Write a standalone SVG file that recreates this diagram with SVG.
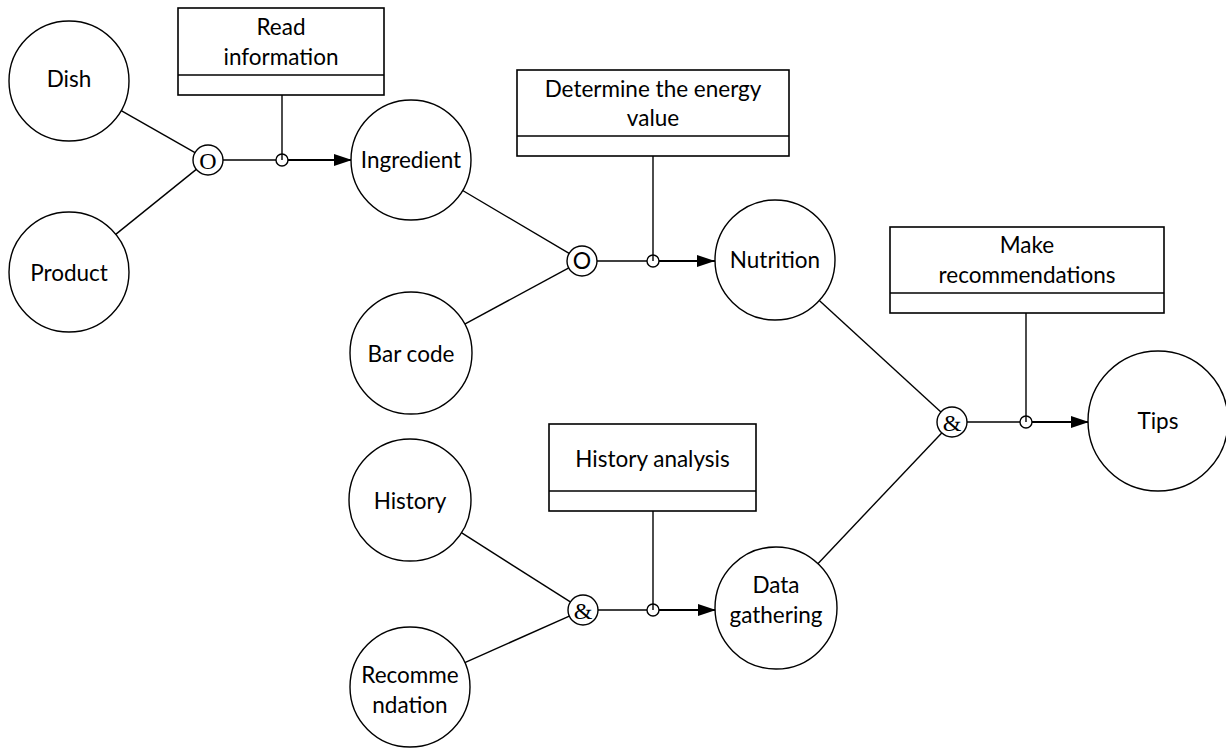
<svg xmlns="http://www.w3.org/2000/svg" width="1226" height="749" viewBox="0 0 1226 749">
  <style>
    .node { fill: #fff; stroke: #000; stroke-width: 1.4; }
    .box { fill: #fff; stroke: #000; stroke-width: 1.6; }
    .lbl { font-family: Lato, "Liberation Sans", sans-serif; font-size: 22.5px; fill: #000; text-anchor: middle; }
    .jn { fill: #fff; stroke: #000; stroke-width: 1.4; }
    .jt { font-family: "Liberation Serif", serif; font-size: 24px; fill: #000; text-anchor: middle; }
    .jts { font-family: Lato, "Liberation Sans", sans-serif; font-size: 23px; fill: #000; text-anchor: middle; }
    .thin { stroke: #000; stroke-width: 1.4; fill: none; }
    .bold { stroke: #000; stroke-width: 2.2; fill: none; }
    .tick { fill: none; stroke: #000; stroke-width: 1.4; }
  </style>
  <defs>
    <marker id="arrow" markerUnits="userSpaceOnUse" markerWidth="18" markerHeight="12" refX="18" refY="6" orient="auto">
      <path d="M0,0 L18,6 L0,12 z" fill="#000"/>
    </marker>
  </defs>

  <rect width="1226" height="749" fill="#fff"/>

  <!-- connectors -->
  <g id="connectors">
    <!-- inputs into junctions -->
    <line class="thin" x1="121.2" y1="110.6" x2="195" y2="152.6"/>
    <line class="thin" x1="115.7" y1="234.4" x2="196.3" y2="169.4"/>
    <line class="thin" x1="462.7" y1="190.5" x2="569.1" y2="253.4"/>
    <line class="thin" x1="463.8" y1="324.6" x2="568.8" y2="267.9"/>
    <line class="thin" x1="819.3" y1="300.5" x2="940.9" y2="411.9"/>
    <line class="thin" x1="817.9" y1="563.7" x2="941.7" y2="432.9"/>
    <line class="thin" x1="460.6" y1="532.2" x2="570.3" y2="601.9"/>
    <line class="thin" x1="464.8" y1="662.6" x2="569.3" y2="616.1"/>

    <!-- outputs from junctions -->
    <line class="thin" x1="223" y1="160" x2="276" y2="160"/>
    <line class="bold" x1="288" y1="160" x2="352" y2="160" marker-end="url(#arrow)"/>
    <line class="thin" x1="597" y1="261" x2="647" y2="261"/>
    <line class="bold" x1="659" y1="261" x2="715" y2="261" marker-end="url(#arrow)"/>
    <line class="thin" x1="598" y1="610" x2="647" y2="610"/>
    <line class="bold" x1="659" y1="610" x2="716" y2="610" marker-end="url(#arrow)"/>
    <line class="thin" x1="967" y1="422" x2="1020" y2="422"/>
    <line class="bold" x1="1032" y1="422" x2="1089" y2="422" marker-end="url(#arrow)"/>

    <!-- operation stems -->
    <line class="thin" x1="282" y1="75" x2="282" y2="160"/>
    <line class="thin" x1="653" y1="136" x2="653" y2="261"/>
    <line class="thin" x1="653" y1="491" x2="653" y2="610"/>
    <line class="thin" x1="1026" y1="293" x2="1026" y2="422"/>

    <!-- stem ticks -->
    <circle class="tick" cx="282" cy="160" r="6"/>
    <circle class="tick" cx="653" cy="261" r="6"/>
    <circle class="tick" cx="653" cy="610" r="6"/>
    <circle class="tick" cx="1026" cy="422" r="6"/>
  </g>

  <!-- junctions -->
  <g id="junction-or-1">
    <circle class="jn" cx="208" cy="160" r="15"/>
    <text class="jt" x="208" y="168.5">O</text>
  </g>
  <g id="junction-or-2">
    <circle class="jn" cx="582" cy="261" r="15"/>
    <text class="jts" x="582" y="269">O</text>
  </g>
  <g id="junction-and-1">
    <circle class="jn" cx="952" cy="422" r="15"/>
    <text class="jt" x="952" y="430.5">&amp;</text>
  </g>
  <g id="junction-and-2">
    <circle class="jn" cx="583" cy="610" r="15"/>
    <text class="jt" x="583" y="618.5">&amp;</text>
  </g>

  <!-- operations -->
  <g id="op-read">
    <rect class="box" x="178" y="8" width="206" height="87"/>
    <line class="box" x1="178" y1="75" x2="384" y2="75"/>
    <text class="lbl" x="281" y="35">Read</text>
    <text class="lbl" x="281" y="65">information</text>
  </g>
  <g id="op-energy">
    <rect class="box" x="517" y="70" width="272" height="86"/>
    <line class="box" x1="517" y1="136" x2="789" y2="136"/>
    <text class="lbl" x="653" y="97">Determine the energy</text>
    <text class="lbl" x="653" y="126">value</text>
  </g>
  <g id="op-recommend">
    <rect class="box" x="890" y="227" width="274" height="86"/>
    <line class="box" x1="890" y1="293" x2="1164" y2="293"/>
    <text class="lbl" x="1027" y="253">Make</text>
    <text class="lbl" x="1027" y="283">recommendations</text>
  </g>
  <g id="op-history">
    <rect class="box" x="549" y="424" width="207" height="87"/>
    <line class="box" x1="549" y1="491" x2="756" y2="491"/>
    <text class="lbl" x="652.5" y="467">History analysis</text>
  </g>

  <!-- entities -->
  <g id="dish">
    <circle class="node" cx="69" cy="81" r="60"/>
    <text class="lbl" x="69" y="87">Dish</text>
  </g>
  <g id="product">
    <circle class="node" cx="69" cy="272" r="60"/>
    <text class="lbl" x="69" y="281">Product</text>
  </g>
  <g id="ingredient">
    <circle class="node" cx="411" cy="160" r="60"/>
    <text class="lbl" x="411" y="168">Ingredient</text>
  </g>
  <g id="bar-code">
    <circle class="node" cx="411" cy="353" r="61"/>
    <text class="lbl" x="411" y="362">Bar code</text>
  </g>
  <g id="nutrition">
    <circle class="node" cx="775" cy="260" r="60"/>
    <text class="lbl" x="775" y="268">Nutrition</text>
  </g>
  <g id="tips">
    <circle class="node" cx="1158" cy="421" r="70"/>
    <text class="lbl" x="1158" y="429">Tips</text>
  </g>
  <g id="history">
    <circle class="node" cx="410" cy="500" r="61"/>
    <text class="lbl" x="410" y="509">History</text>
  </g>
  <g id="recommendation">
    <circle class="node" cx="410" cy="687" r="60"/>
    <text class="lbl" x="410" y="683">Recomme</text>
    <text class="lbl" x="410" y="713">ndation</text>
  </g>
  <g id="data-gathering">
    <circle class="node" cx="776" cy="608" r="61"/>
    <text class="lbl" x="776" y="593">Data</text>
    <text class="lbl" x="776" y="623">gathering</text>
  </g>
</svg>
